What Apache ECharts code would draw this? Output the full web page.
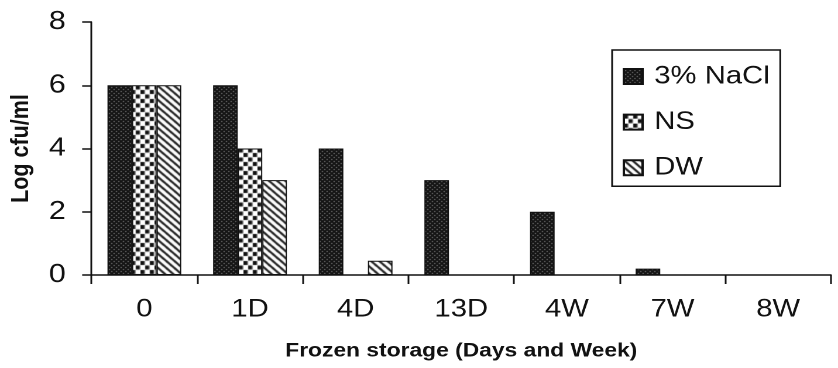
<!DOCTYPE html>
<html>
<head>
<meta charset="utf-8">
<script src="https://cdn.jsdelivr.net/npm/echarts@6/dist/echarts.min.js"></script>
<style>
  html, body { margin: 0; padding: 0; background: #fff; overflow: hidden; }
  /* chart is laid out narrower and widened horizontally, giving the wide glyph look */
  #chart { width: 716px; height: 368px; transform-origin: 0 0; transform: scaleX(1.1704); }
</style>
</head>
<body>
<div id="chart"></div>
<script>
// Storage times
const categories = ['0', '1D', '4D', '13D', '4W', '7W', '8W'];
// Log cfu/ml per medium
const nacl = [6, 6, 4, 3, 2, 0.2, 0];
const ns   = [6, 4, 0, 0, 0, 0, 0];
const dw   = [6, 3, 0.45, 0, 0, 0, 0];
const seriesNames = ['3% NaCl', 'NS', 'DW'];
// Value axis ticks
const yMin = 0, yMax = 8, yStep = 2;

const FONT = '"Liberation Sans", Arial, sans-serif';
const INK = '#111';

// Small repeating tiles used as bar fills
function tile(w, h, draw) {
  const c = document.createElement('canvas');
  c.width = w; c.height = h;
  draw(c.getContext('2d'), w, h);
  return c;
}
const dottedTile = tile(4, 4, (g) => {
  g.fillStyle = '#141414'; g.fillRect(0, 0, 4, 4);
  g.fillStyle = '#8a8a8a'; g.fillRect(1, 1, 1, 1); g.fillRect(3, 3, 1, 1);
});
const checkerTile = tile(8, 9, (g) => {
  g.fillStyle = '#fff'; g.fillRect(0, 0, 8, 9);
  g.fillStyle = '#111';
  g.fillRect(0, 0, 3.6, 4); g.fillRect(4, 4.5, 3.6, 4);
});
const stripeTile = tile(7, 7, (g) => {
  g.fillStyle = '#fff'; g.fillRect(0, 0, 7, 7);
  g.strokeStyle = '#111'; g.lineWidth = 1.9;
  g.beginPath();
  g.moveTo(-1, -1); g.lineTo(8, 8);
  g.moveTo(-1, 6); g.lineTo(1, 8);
  g.moveTo(6, -1); g.lineTo(8, 1);
  g.stroke();
});
const fills = [dottedTile, checkerTile, stripeTile].map(img => ({ image: img, repeat: 'repeat' }));
const values = [nacl, ns, dw];

const chart = echarts.init(document.getElementById('chart'), null, { renderer: 'canvas', devicePixelRatio: 2 });

chart.setOption({
  animation: false,
  backgroundColor: '#fff',
  grid: { left: 78.2, right: 6, top: 22, bottom: 93, containLabel: false, outerBoundsMode: 'none' },
  legend: {
    orient: 'vertical',
    left: 523, top: 50,
    padding: [14, 9, 6, 9],
    itemGap: 20.6,
    itemWidth: 16, itemHeight: 15,
    icon: 'rect',
    borderColor: INK, borderWidth: 1.5,
    textStyle: { fontFamily: FONT, fontSize: 25, lineHeight: 25, color: INK, padding: [0, 0, 0, 5] },
    data: seriesNames
  },
  xAxis: {
    type: 'category',
    data: categories,
    boundaryGap: true,
    axisLine: { lineStyle: { color: INK, width: 1.5 } },
    axisTick: { show: true, length: 9, lineStyle: { color: INK, width: 1.5 } },
    axisLabel: { fontFamily: FONT, fontSize: 25, color: INK, margin: 22 },
    name: 'Frozen storage (Days and Week)',
    nameLocation: 'middle',
    nameGap: 66,
    nameTextStyle: { fontFamily: FONT, fontWeight: 'bold', fontSize: 19.5, color: INK }
  },
  yAxis: {
    type: 'value',
    min: yMin, max: yMax, interval: yStep,
    splitLine: { show: false },
    axisLine: { show: true, lineStyle: { color: INK, width: 1.5 } },
    axisTick: { show: true, length: 8, lineStyle: { color: INK, width: 1.5 } },
    axisLabel: { fontFamily: FONT, fontSize: 26, color: INK, margin: 22 },
    name: 'Log cfu/ml',
    nameLocation: 'middle',
    nameRotate: 90,
    nameGap: 49,
    nameTextStyle: { fontFamily: FONT, fontWeight: 'bold', fontSize: 21.5, color: INK }
  },
  series: seriesNames.map((name, i) => ({
    name,
    type: 'bar',
    data: values[i],
    barWidth: 21,
    barGap: '0%',
    itemStyle: { color: fills[i], borderColor: INK, borderWidth: 1 }
  }))
});
</script>
</body>
</html>
